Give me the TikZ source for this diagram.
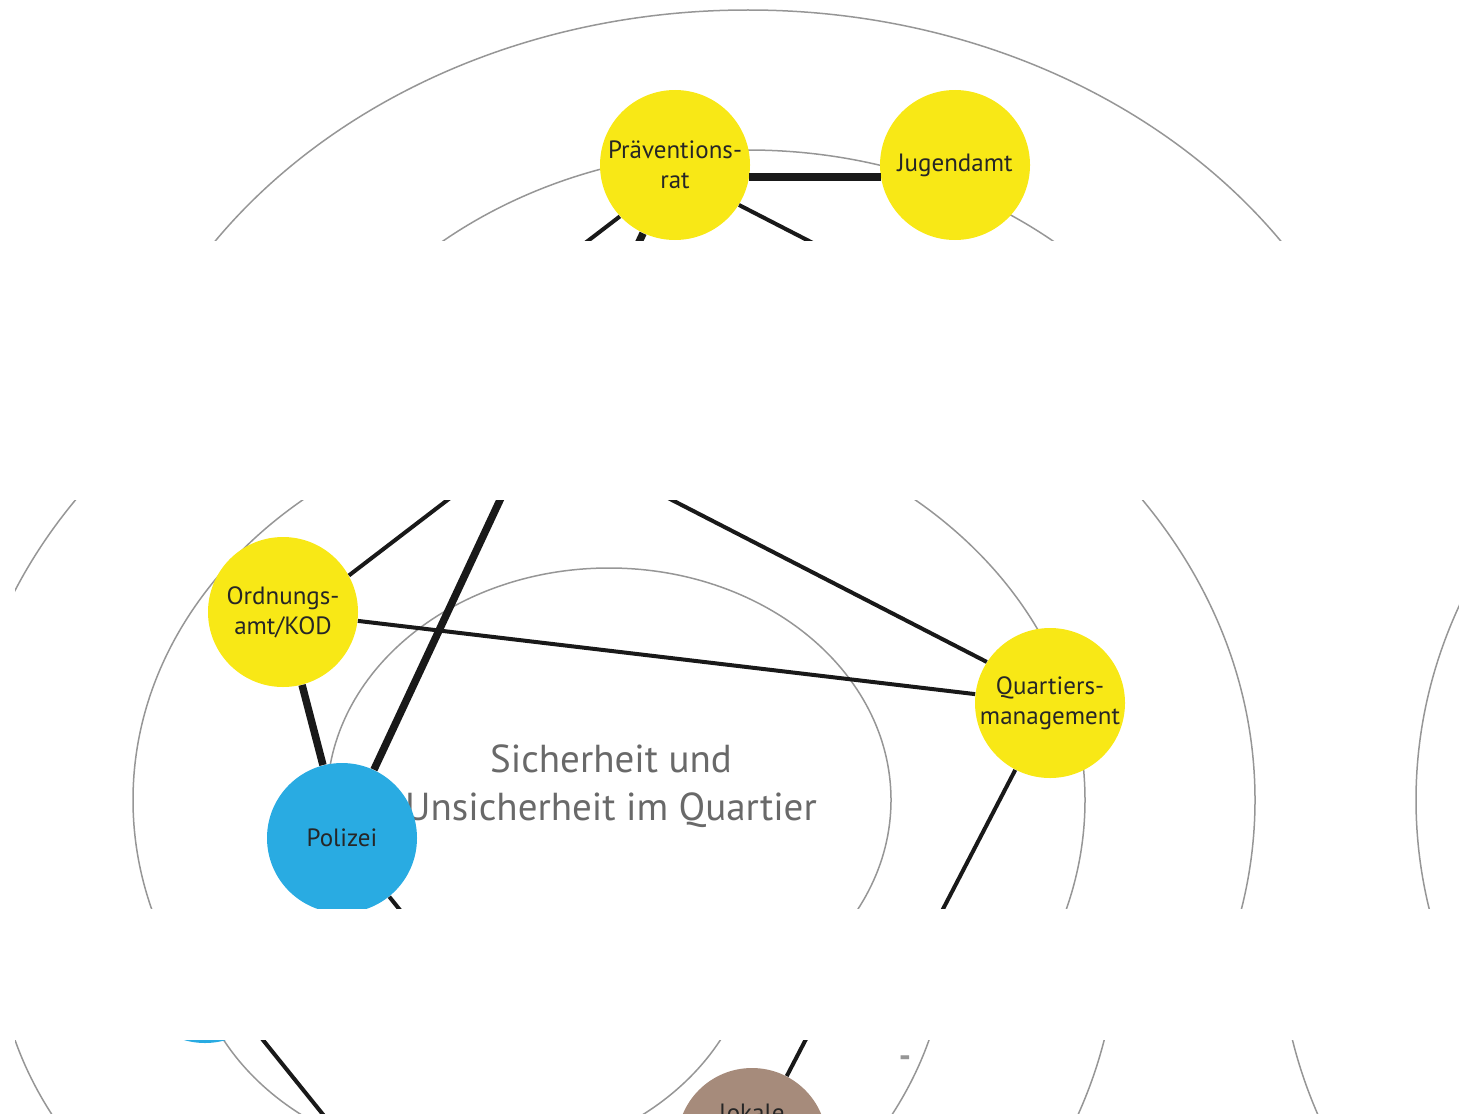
\documentclass[tikz,border=0pt]{standalone}
\usepackage{fontspec}
\setmainfont{PT Sans}

\definecolor{gelb}{RGB}{248,232,22}
\definecolor{blau}{RGB}{41,171,226}
\definecolor{braun}{RGB}{166,139,123}
\definecolor{ringgrau}{RGB}{150,150,150}
\definecolor{titelgrau}{RGB}{105,105,105}

\begin{document}
\begin{tikzpicture}
[x=0.5pt, y=-0.5pt,
akteur/.style={circle, inner sep=0pt, minimum size=75pt, align=center, font=\fontsize{12.5}{15}\selectfont, text=black!85},
kreis/.style={draw=ringgrau, line width=0.75pt},
verb/.style={draw=black!90, line width=2pt},
verbdick/.style={draw=black!90, line width=3.75pt}]

\useasboundingbox (0,0) rectangle (1459,1113);

% drei Streifen, jeweils verschoben
\foreach \mx/\my/\oben/\unten in {748/542/0/240, 609/800/500/908, 472/930/1040/1113}
{
\begin{scope}
\clip (15,\oben) rectangle (1459,\unten);
\begin{scope}[shift={(\mx,\my)}]

\draw[kreis] (0,0) ellipse [x radius=282, y radius=232];
\draw[kreis] (0,0) ellipse [x radius=476, y radius=392];
\draw[kreis] (0,0) ellipse [x radius=646, y radius=532];
\draw[kreis] (1455,0) ellipse [x radius=648, y radius=540];

\node[font=\fontsize{19.5}{24}\selectfont, text=titelgrau, align=center] (thema) at (2,-14) {Sicherheit und\\Unsicherheit im Quartier};

\node[akteur, fill=gelb] (prae) at (-73,-377) {Präventions-\\rat};
\node[akteur, fill=gelb] (jug) at (207,-377) {Jugendamt};
\node[akteur, fill=gelb] (ordn) at (-326,-188) {Ordnungs-\\amt/KOD};
\node[akteur, fill=gelb] (quart) at (441,-97) {Quartiers-\\management};
\node[akteur, fill=blau] (pol) at (-267,38) {Polizei};
\node[akteur, fill=braun] (lokale) at (280,213) {};
\node[akteur, anchor=base, minimum size=0pt] (lokaletxt) at (280,191) {lokale};
\node[text=ringgrau, font=\fontsize{17}{20}\selectfont\bfseries] (strich) at (433,132) {-};
\coordinate (polende) at (-60,295);

\draw[verbdick] (prae.-9) -- (jug.189);
\draw[verbdick] (prae) -- (pol);
\draw[verbdick] (ordn) -- (pol);
\draw[verb] (prae.223) -- (ordn.29);
\draw[verb] (prae.-32) -- (quart.147);
\draw[verb] (ordn) -- (quart);
\draw[verb] (quart) -- (lokale);
\draw[verb] (pol) -- (polende);

\end{scope}
\end{scope}
}

\end{tikzpicture}
\end{document}
